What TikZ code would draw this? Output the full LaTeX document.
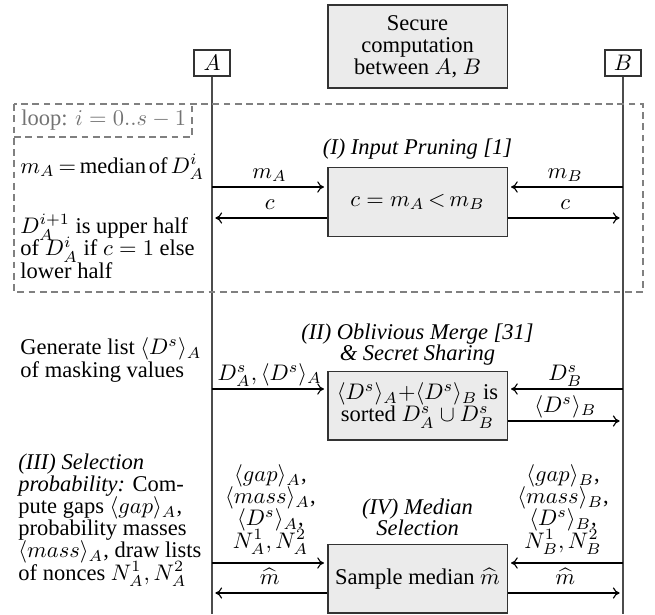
\documentclass[tikz,border=0pt]{standalone}
\usepackage{fontspec}
\setmainfont{Liberation Serif}
\usetikzlibrary{arrows.meta,calc}
% fixed line spacing inside multi-line nodes
\newcommand{\fixedlines}{\lineskiplimit=-100pt\relax\lineskip=0pt\relax}
\begin{document}
\begin{tikzpicture}[x=0.4444pt,y=-0.4444pt,
  >={To[length=3pt,width=5pt]},
  every node/.style={font=\fontsize{10}{9.8}\selectfont\fixedlines, inner sep=0pt},
  party/.style={draw=black!80, line width=0.5pt, fill=white, minimum width=16pt, minimum height=11.6pt},
  proc/.style={draw=black!80, line width=0.5pt, fill=black!8, minimum width=79.6pt, minimum height=30.6pt, align=center},
  life/.style={draw=black!70, line width=0.5pt},
  msg/.style={->, line width=0.5pt, shorten >=1.5pt},
  loopline/.style={draw=black!50, line width=0.75pt, dash pattern=on 3pt off 2pt},
  note/.style={align=left, anchor=base west},
  stack/.style={align=center, anchor=base},
  lab/.style={midway, anchor=base, yshift=3.8pt},
  stitle/.style={font=\fontsize{10}{8.9}\selectfont\itshape\fixedlines, align=center, anchor=base},
]
\useasboundingbox (0,0) rectangle (655,614);

% header: the two parties and the joint computation
% (multi-line nodes are placed by the baseline of their last line)
\node[proc, minimum height=36.9pt] (sec) at (417.5,46.5) {Secure\\computation\\between $A$, $B$};
\node[party] (pa) at (212,63) {$A$};
\node[party] (pb) at (623,63) {$B$};

% lifelines
\coordinate (aend) at (212,614);
\coordinate (bend) at (623,614);
\draw[life] (pa.south) -- (aend);
\draw[life] (pb.south) -- (bend);

% loop frame with its tag
\draw[loopline] (14,104) rectangle (643,292);
\draw[loopline] (14,137) -| (192,104);
\node[anchor=base west, text=black!55] (looptag) at (21,125) {loop: $i = 0..s-1$};

% (I) input pruning
\node[stitle] (t1) at (417.5,154) {(I) Input Pruning [1]};
\node[proc] (p1) at (417.5,202) {$c = m_A\,{<}\,m_B$};
\coordinate (a1) at (212,187);
\coordinate (a2) at (212,218);
\coordinate (b1) at (623,187);
\coordinate (b2) at (623,218);
\draw[msg] (a1) -- (a1 -| p1.west) node[lab] (lma) {$m_A$};
\draw[msg] (p1.west |- a2) -- (a2) node[lab] (lca) {$c$};
\draw[msg] (b1) -- (b1 -| p1.east) node[lab] (lmb) {$m_B$};
\draw[msg] (p1.east |- b2) -- (b2) node[lab] (lcb) {$c$};
\node[note] (n1) at (20,173) {$m_A\,{=}\,$median\hspace{0.12em}of\hspace{0.15em}$D_A^i$};
\node[note] (n2) at (20,278) {$D_A^{i+1}$ is upper half\\of $D_A^i$ if $c = 1$ else\\lower half};

% (II) oblivious merge and secret sharing
\node[stitle] (t2) at (417.5,360) {(II) Oblivious Merge [31]\\\& Secret Sharing};
\node[proc] (p2) at (417.5,405.5) {$\langle D^s\rangle_A{+}\langle D^s\rangle_B$ is\\sorted $D^s_A \cup D^s_B$};
\coordinate (a3) at (212,389);
\coordinate (b3) at (623,389);
\coordinate (b4) at (623,421);
\draw[msg] (a3) -- (a3 -| p2.west) node[lab] (lds) {$D^s_A, \langle D^s\rangle_A$};
\draw[msg] (b3) -- (b3 -| p2.east) node[lab] (ldb) {$D^s_B$};
\draw[msg] (p2.east |- b4) -- (b4) node[lab] (lsb) {$\langle D^s\rangle_B$};
\node[note] (n3) at (20,377) {Generate list $\langle D^s\rangle_A$\\of masking values};

% (III) selection probability and (IV) median selection
\node[note] (n4) at (18,580) {\textit{(III) Selection}\\\textit{probability:} Com-\\pute gaps $\langle gap\rangle_A$,\\probability masses\\$\langle mass\rangle_A$, draw lists\\of nonces $N_A^1, N_A^2$};
\node[stitle] (t4) at (417.5,535) {(IV) Median\\Selection};
\node[proc] (p4) at (417.5,578.5) {Sample median $\widehat{m}$};
\coordinate (a5) at (212,563);
\coordinate (a6) at (212,593);
\coordinate (b5) at (623,563);
\coordinate (b6) at (623,593);
\draw[msg] (a5) -- (a5 -| p4.west);
\draw[msg] (p4.west |- a6) -- (a6) node[lab] (lha) {$\widehat{m}$};
\draw[msg] (b5) -- (b5 -| p4.east);
\draw[msg] (p4.east |- b6) -- (b6) node[lab] (lhb) {$\widehat{m}$};
\node[stack] (sa) at (270.5,548) {$\langle gap\rangle_A$,\\$\langle mass\rangle_A$,\\$\langle D^s\rangle_A$,\\$N^1_A, N^2_A$};
\node[stack] (sb) at (563,548) {$\langle gap\rangle_B$,\\$\langle mass\rangle_B$,\\$\langle D^s\rangle_B$,\\$N^1_B, N^2_B$};
\end{tikzpicture}
\end{document}
